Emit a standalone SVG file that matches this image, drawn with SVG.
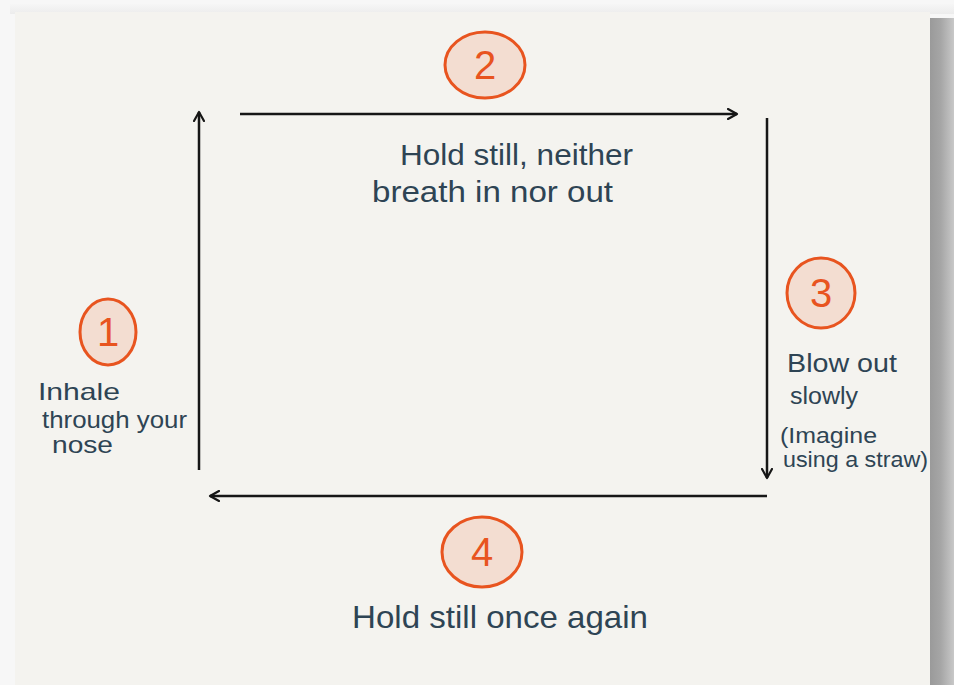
<svg xmlns="http://www.w3.org/2000/svg" width="954" height="685" viewBox="0 0 954 685">
<style>
.badge{fill:#f3ddd1;stroke:#e8541f;stroke-width:3}
.num{font-family:"Liberation Sans",Arial,sans-serif;fill:#e8541f;font-size:40px;text-anchor:middle}
.lbl{font-family:"Liberation Sans",Arial,sans-serif;fill:#2e4454}
.arrow{stroke:#161616;stroke-width:2.5;fill:none;marker-end:url(#head)}
</style>
<defs>
<marker id="head" viewBox="0 0 12 12" refX="10" refY="6" markerWidth="12" markerHeight="12" markerUnits="userSpaceOnUse" orient="auto">
<path d="M1,1 L10,6 L1,11" fill="none" stroke="#161616" stroke-width="2.2" stroke-linecap="round" stroke-linejoin="round"/>
</marker>
<linearGradient id="shR" x1="0" y1="0" x2="1" y2="0">
<stop offset="0" stop-color="#9a9a9a"/>
<stop offset="0.45" stop-color="#a6a6a6"/>
<stop offset="1" stop-color="#c8c8c8"/>
</linearGradient>
<linearGradient id="shT" x1="0" y1="0" x2="0" y2="1">
<stop offset="0" stop-color="#f6f6f6"/>
<stop offset="1" stop-color="#ececec"/>
</linearGradient>
</defs>
<rect x="0" y="0" width="954" height="685" fill="#f7f7f7"/>
<rect x="10" y="4" width="944" height="10" fill="url(#shT)"/>
<rect x="930" y="18" width="24" height="667" fill="url(#shR)"/>
<rect x="15" y="12" width="915" height="673" fill="#f4f3ef"/>

<g id="connectors">
<line class="arrow" x1="240" y1="114" x2="737" y2="114"/>
<line class="arrow" x1="767" y1="118" x2="767" y2="478"/>
<line class="arrow" x1="767" y1="496" x2="210" y2="496"/>
<line class="arrow" x1="199" y1="470" x2="199" y2="112"/>
</g>

<g id="step1">
<ellipse class="badge" cx="108" cy="332" rx="28" ry="33"/>
<text class="num" x="108" y="346">1</text>
<text class="lbl" font-size="24" x="38" y="400" textLength="82" lengthAdjust="spacingAndGlyphs">Inhale</text>
<text class="lbl" font-size="24" x="42" y="428" textLength="145" lengthAdjust="spacingAndGlyphs">through your</text>
<text class="lbl" font-size="24" x="52" y="453" textLength="61" lengthAdjust="spacingAndGlyphs">nose</text>
</g>

<g id="step2">
<ellipse class="badge" cx="485" cy="65" rx="40" ry="33"/>
<text class="num" x="485" y="79">2</text>
<text class="lbl" font-size="30" x="400" y="165" textLength="233" lengthAdjust="spacingAndGlyphs">Hold still, neither</text>
<text class="lbl" font-size="30" x="372" y="202" textLength="241" lengthAdjust="spacingAndGlyphs">breath in nor out</text>
</g>

<g id="step3">
<ellipse class="badge" cx="821" cy="293" rx="34" ry="35"/>
<text class="num" x="821" y="307">3</text>
<text class="lbl" font-size="26" x="787" y="372" textLength="110" lengthAdjust="spacingAndGlyphs">Blow out</text>
<text class="lbl" font-size="23" x="790" y="404" textLength="68" lengthAdjust="spacingAndGlyphs">slowly</text>
<text class="lbl" font-size="22" x="780" y="443" textLength="97" lengthAdjust="spacingAndGlyphs">(Imagine</text>
<text class="lbl" font-size="22" x="783" y="467" textLength="145" lengthAdjust="spacingAndGlyphs">using a straw)</text>
</g>

<g id="step4">
<ellipse class="badge" cx="482" cy="552" rx="40" ry="35"/>
<text class="num" x="482" y="566">4</text>
<text class="lbl" font-size="32" x="352" y="628" textLength="296" lengthAdjust="spacingAndGlyphs">Hold still once again</text>
</g>
</svg>
